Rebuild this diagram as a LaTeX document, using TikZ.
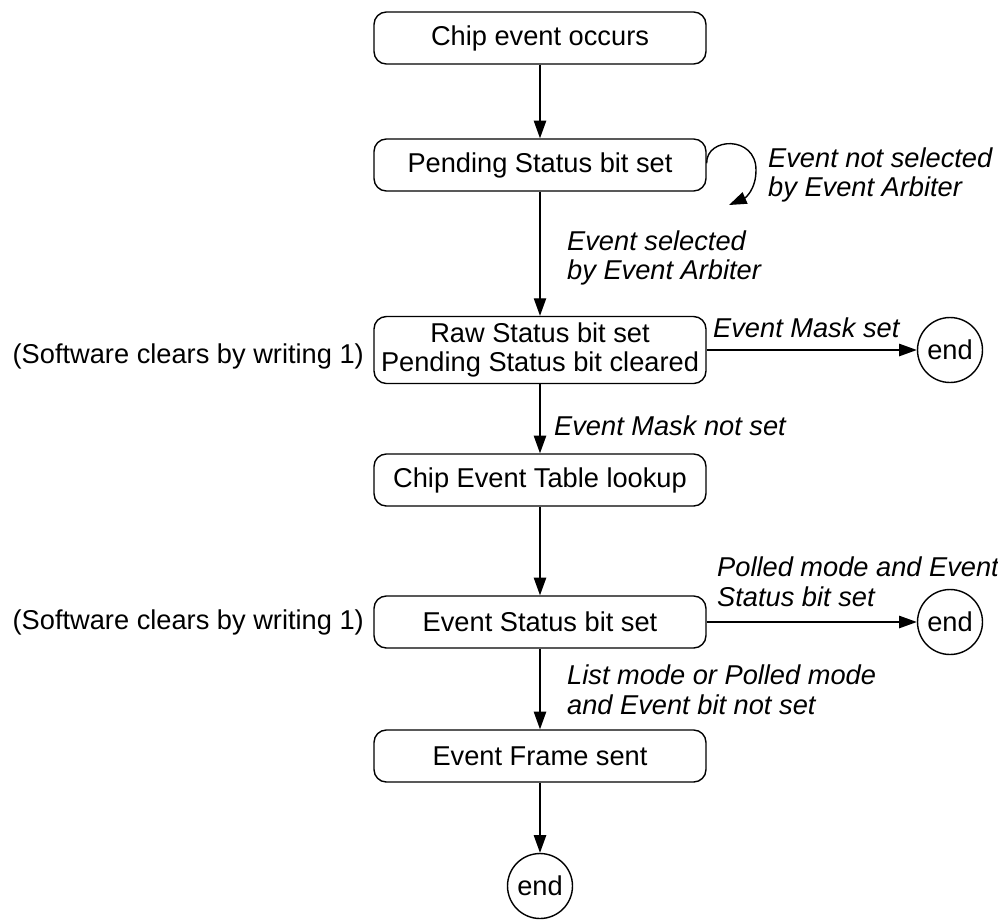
\documentclass[tikz,border=0pt]{standalone}
\usepackage{fontspec}
\setmainfont{Liberation Sans}
\usetikzlibrary{arrows.meta}

\begin{document}
\begin{tikzpicture}[
    x=0.02cm,
    y=-0.02cm,
    font=\fontsize{15.5}{17}\selectfont,
    stepbox/.style={draw, rounded corners=7pt, minimum width=6.64cm, minimum height=1.04cm, align=center, line width=0.8pt},
    endnode/.style={draw, circle, minimum size=1.3cm, inner sep=0pt, line width=0.8pt},
    cond/.style={font=\fontsize{15.5}{17}\selectfont\itshape, align=left, anchor=west},
    arr/.style={-{Triangle[length=10pt,width=7pt]}, line width=0.8pt}
]
\useasboundingbox (0,0) rectangle (998,920);

\node[stepbox] (chip) at (540,38) {Chip event occurs};
\node[stepbox] (pend) at (540,165) {Pending Status bit set};
\node[stepbox, minimum height=1.28cm] (raw) at (540,350) {Raw Status bit set\\Pending Status bit cleared};
\node[stepbox] (table) at (540,480) {Chip Event Table lookup};
\node[stepbox] (evstat) at (540,622) {Event Status bit set};
\node[stepbox] (frame) at (540,756) {Event Frame sent};

\node[endnode] (end1) at (950,350) {end};
\node[endnode] (end2) at (950,622) {end};
\node[endnode] (end3) at (540,886) {end};

\node[anchor=east] (sw1) at (370,356) {(Software clears by writing 1)};
\node[anchor=east] (sw2) at (370,622) {(Software clears by writing 1)};

\draw[arr] (chip) -- (pend);
\draw[arr] (pend) -- (raw);
\draw[arr] (raw) -- (table);
\draw[arr] (table) -- (evstat);
\draw[arr] (evstat) -- (frame);
\draw[arr] (frame) -- (end3);
\draw[arr] (raw) -- (end1);
\draw[arr] (evstat) -- (end2);

% self loop
\coordinate (loopr) at (756,170);
\coordinate (looptip) at (729,205);
\draw[arr] ([yshift=1pt]pend.east) .. controls (706,137) and (756,135) .. (loopr)
    .. controls (756,190) and (745,198) .. (looptip);

\node[cond] (notsel) at (762,175) {Event not selected\\by Event Arbiter};
\node[cond] (sel) at (561,258) {Event selected\\by Event Arbiter};
\node[cond] (mask) at (707,328) {Event Mask set};
\node[cond] (nomask) at (548,426) {Event Mask not set};
\node[cond] (polled) at (711,582) {Polled mode and Event\\Status bit set};
\node[cond] (listm) at (561,690) {List mode or Polled mode\\and Event bit not set};

\end{tikzpicture}
\end{document}
